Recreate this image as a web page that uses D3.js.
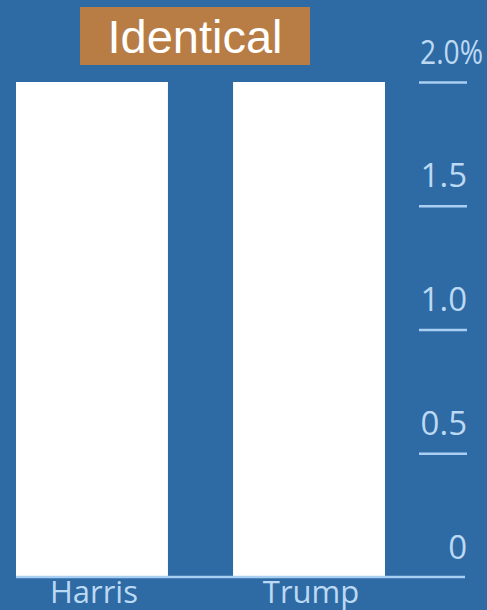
<!DOCTYPE html>
<html>
<head>
<meta charset="utf-8">
<script src="https://cdn.jsdelivr.net/npm/d3@7"></script>
<style>
  html, body { margin: 0; padding: 0; background: #2e6aa4; }
  svg { display: block; }
</style>
</head>
<body>
<script>
// Share of respondents by candidate
const categories = ["Harris", "Trump"];
const values = [2.0, 2.0];
const tickValues = [0, 0.5, 1.0, 1.5, 2.0];
const tickLabels = ["0", "0.5", "1.0", "1.5", "2.0%"];
const badgeText = "Identical";

const W = 487, H = 610;
const bg = "#2e6aa4", axisCol = "#a9cff3", textCol = "#bcd9f3";

const svg = d3.select("body").append("svg")
  .attr("width", W).attr("height", H);

svg.append("rect").attr("width", W).attr("height", H).attr("fill", bg);

const y = d3.scaleLinear().domain([0, 2]).range([577, 82]);
const x = d3.scaleBand().domain(categories).range([16, 385]).paddingInner(0.3).paddingOuter(0);

// bars
svg.selectAll("rect.bar").data(categories).join("rect")
  .attr("class", "bar")
  .attr("x", d => x(d))
  .attr("width", x.bandwidth())
  .attr("y", (d, i) => y(values[i]))
  .attr("height", (d, i) => y(0) - y(values[i]))
  .attr("fill", "#ffffff");

// baseline
svg.append("line")
  .attr("x1", 16).attr("x2", 465)
  .attr("y1", y(0)).attr("y2", y(0))
  .attr("stroke", axisCol).attr("stroke-width", 2.5);

// right-hand value axis: short rule under each label
const axis = d3.axisRight(y).tickValues(tickValues).tickSize(0).tickFormat((d, i) => tickLabels[i]);
const ag = svg.append("g").call(axis);
ag.select(".domain").remove();
ag.selectAll(".tick").each(function(d) {
  const g = d3.select(this);
  g.select("text")
    .attr("dy", null)
    .attr("y", -19)
    .attr("text-anchor", "end")
    .attr("fill", textCol)
    .style("font-family", "'Open Sans', sans-serif")
    .style("font-size", "33px");
  if (d > 0) {
    g.append("line").attr("x1", 419).attr("x2", 467).attr("y1", 0).attr("y2", 0)
      .attr("stroke", axisCol).attr("stroke-width", 2.5);
  }
});
ag.selectAll(".tick text").each(function(d, i) {
  const t = d3.select(this);
  if (tickLabels[i].endsWith("%")) {
    // top label carries the unit and runs out past the rule
    t.attr("text-anchor", "start").attr("x", 420)
      .attr("textLength", 63).attr("lengthAdjust", "spacingAndGlyphs");
  } else {
    t.attr("x", 467);
  }
});

// category labels
svg.selectAll("text.cat").data(categories).join("text")
  .attr("class", "cat")
  .attr("x", d => x(d) + x.bandwidth() / 2 + 2)
  .attr("y", 603)
  .attr("text-anchor", "middle")
  .attr("fill", textCol)
  .style("font-family", "'Open Sans', sans-serif")
  .style("font-size", "31px")
  .text(d => d);

// badge
svg.append("rect").attr("x", 80).attr("y", 7).attr("width", 230).attr("height", 58)
  .attr("fill", "#b87d45");
svg.append("text").attr("x", 195).attr("y", 53)
  .attr("text-anchor", "middle").attr("fill", "#ffffff")
  .style("font-family", "'Liberation Sans', Arial, sans-serif")
  .style("font-size", "47px")
  .text(badgeText);
</script>
</body>
</html>
